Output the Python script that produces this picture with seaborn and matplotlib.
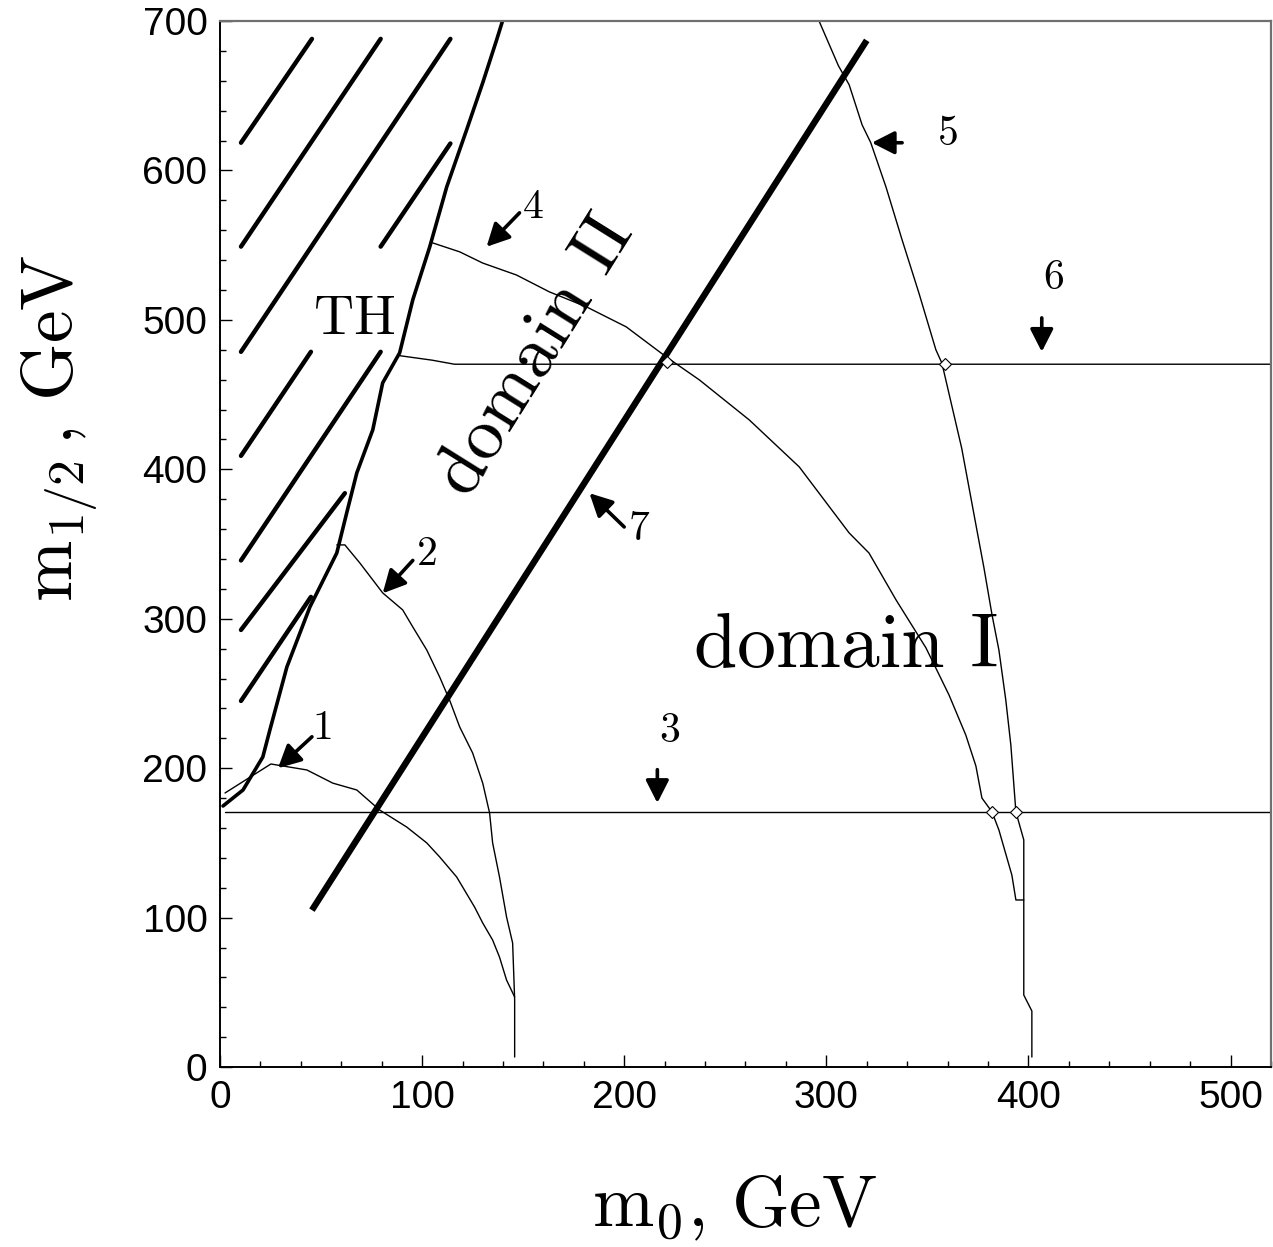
import numpy as np
import pandas as pd
import matplotlib
matplotlib.use("Agg")
import matplotlib.pyplot as plt
import seaborn as sns

# --- data (m0, m1/2 in GeV) ---
# theoretically excluded boundary (thick jagged line)
th_x = [1.5, 11.4, 21.2, 24.7, 33.1, 44.5, 57.8, 62.7, 67.7, 75.6, 80.5, 88.9, 95.4, 103.8, 112.2, 122, 130, 136.9, 139.8]
th_y = [174.7, 185.4, 207.5, 225.6, 267.7, 307.9, 344, 370.8, 397.6, 426.4, 457.8, 477.9, 513.4, 548.9, 589, 627, 658.6, 687.4, 700]

# hatch strokes of the TH region (start/end)
hatch_x0 = [10.4, 10.4, 10.4, 79.5, 10.4, 10.4, 10.4, 10.4]
hatch_y0 = [618.5, 549, 478.6, 549, 409, 339, 292.5, 245]
hatch_x1 = [45.5, 79.5, 114, 114, 45, 79.5, 61.8, 45]
hatch_y1 = [688, 688, 688, 618, 478.6, 478.6, 384, 314.6]

# curve 1
c1_x = [2.5, 25.2, 43, 55.8, 67.7, 79, 92.4, 102.3, 108.7, 117.1, 126, 130, 134.9, 138.3, 141.8, 145.8]
c1_y = [183.4, 202.8, 198.8, 190, 185.4, 172, 160.6, 150, 140.6, 127.2, 107, 96.4, 85, 73.6, 58.2, 46.9]

# curve 2
c2_x = [57.8, 61.8, 69.2, 80.5, 90.4, 95.4, 102.3, 108.7, 113.6, 118.6, 125, 130, 133.4, 134.9, 138.3, 141.8, 144.8, 145.8, 145.8]
c2_y = [349.4, 349.4, 337.3, 317.3, 305.9, 294.5, 279.1, 261, 245.6, 227.6, 210.2, 190, 170, 150, 127.2, 100.4, 83, 45, 6.7]

# curve 4
c4_x = [105.2, 118.6, 130, 146.7, 163, 181.3, 201, 220.8, 237.2, 261.9, 286.6, 311.3, 321.1, 334.5, 349.3, 360.7, 369, 374, 377, 382, 385.4, 391.8, 393.8, 397.7]
c4_y = [551.5, 545.5, 538, 530, 518.7, 508.7, 495.3, 475.2, 459.8, 433, 401.6, 357.4, 344, 312.6, 280.5, 249, 222.2, 201.5, 180, 170.7, 158.6, 128.5, 111.8, 111.8]

# curve 5
c5_x = [296.4, 306, 311.3, 317.7, 322, 329.5, 337.5, 345.8, 354.2, 357.2, 367, 374, 378, 382, 385.4, 388.8, 391.3, 393.8, 397.7, 397.7, 401.7, 401.7]
c5_y = [700, 670, 657.3, 630.5, 618.5, 589, 553.5, 518, 480, 471, 414, 363, 334, 302.5, 279, 245.6, 215.5, 170.7, 152, 48.2, 37.5, 6.7]

# horizontal lines 3 and 6
l3_x = [2.5, 520]
l3_y = [170.5, 170.5]
l6_x = [89, 105, 116, 520]
l6_y = [476, 473, 470.3, 470.3]

# thick line 7
l7_x = [45.5, 320]
l7_y = [105, 687]

# crossing diamonds
dia_x = [358.5, 382, 394, 221]
dia_y = [470.3, 170.5, 170.5, 472]

# arrows: tail -> tip, label position
arr_lab = ["1", "2", "3", "4", "5", "6", "7"]
arr_tail_x = [45.5, 95.4, 216.4, 148.2, 337.5, 406.6, 200]
arr_tail_y = [221, 339, 199, 571.6, 618.5, 501.3, 361.4]
arr_tip_x = [28.7, 80.5, 216.4, 131.9, 322.5, 406.6, 182.8]
arr_tip_y = [200, 317, 176.7, 548.9, 618.5, 478.6, 384]
lab_x = [51, 102.5, 222.5, 155, 360.5, 412.5, 207.5]
lab_y = [227, 343, 225, 575, 624, 528, 360]

sns.set_theme(style="white")
plt.rcParams["font.family"] = ["DejaVu Sans"]
plt.rcParams["mathtext.fontset"] = "cm"
plt.rcParams["text.color"] = "black"
plt.rcParams["axes.labelcolor"] = "black"
plt.rcParams["xtick.color"] = "black"
plt.rcParams["ytick.color"] = "black"

fig = plt.figure(figsize=(12.73, 12.47), dpi=100)
ax = fig.add_axes([0.1728, 0.1443, 0.8256, 0.8389])

# hatch strokes
hatch = pd.DataFrame({
    "x": np.ravel(np.column_stack([hatch_x0, hatch_x1])),
    "y": np.ravel(np.column_stack([hatch_y0, hatch_y1])),
    "seg": np.repeat(np.arange(len(hatch_x0)), 2),
})
sns.lineplot(data=hatch, x="x", y="y", units="seg", estimator=None, sort=False,
             color="black", lw=3.2, ax=ax, legend=False)

sns.lineplot(x=th_x, y=th_y, sort=False, estimator=None, color="black", lw=2.6, ax=ax)
for cx, cy in [(c1_x, c1_y), (c2_x, c2_y), (c4_x, c4_y), (c5_x, c5_y),
               (l3_x, l3_y), (l6_x, l6_y)]:
    sns.lineplot(x=cx, y=cy, sort=False, estimator=None, color="black", lw=1.0, ax=ax)
sns.lineplot(x=l7_x, y=l7_y, sort=False, estimator=None, color="black", lw=4.6,
             ax=ax, solid_capstyle="butt")
ax.plot(dia_x, dia_y, ls="none", marker="D", ms=6.5, mfc="white", mec="black", mew=0.8)

for t, tx, ty, hx, hy, lx, ly in zip(arr_lab, arr_tail_x, arr_tail_y, arr_tip_x,
                                     arr_tip_y, lab_x, lab_y):
    ax.annotate("", xy=(hx, hy), xytext=(tx, ty),
                arrowprops=dict(arrowstyle="-|>,head_length=0.55,head_width=0.28",
                                mutation_scale=25, lw=2.6, color="black",
                                shrinkA=0, shrinkB=0))
    ax.text(lx, ly, t, fontsize=30, family="cmr10", ha="center", va="center")

ax.text(66.7, 500, "TH", fontsize=40, family="cmr10", ha="center", va="center")
ax.text(156.5, 476, "domain II", fontsize=53, family="cmr10", ha="center",
        va="center", rotation=58, rotation_mode="anchor")
ax.text(310, 281, "domain I", fontsize=56, family="cmr10", ha="center", va="center")

ax.set_xlim(0, 520)
ax.set_ylim(0, 700)
ax.set_xticks(np.arange(0, 501, 100))
ax.set_yticks(np.arange(0, 701, 100))
ax.set_xticks(np.arange(0, 521, 20), minor=True)
ax.set_yticks(np.arange(0, 701, 20), minor=True)
ax.tick_params(which="both", direction="in", bottom=True, left=True, top=False,
               right=False, color="black", width=1.0)
ax.tick_params(which="major", length=8.5, pad=9, labelsize=28, labelcolor="black")
ax.tick_params(which="minor", length=4.5)
for lab in ax.get_xticklabels() + ax.get_yticklabels():
    lab.set_family("Liberation Sans")

for side in ["left", "bottom"]:
    ax.spines[side].set_color("black")
    ax.spines[side].set_linewidth(1.4)
for side in ["top", "right"]:
    ax.spines[side].set_color("#707070")
    ax.spines[side].set_linewidth(1.6)

ax.set_xlabel(r"$\mathrm{m}_{0}\mathrm{,\,GeV}$", fontsize=53, va="center", color="black")
ax.set_ylabel(r"$\mathrm{m}_{1/2}\mathrm{\,,\,GeV}$", fontsize=53, va="center", color="black")
ax.xaxis.set_label_coords(0.49, -0.132)
ax.yaxis.set_label_coords(-0.152, 0.611)

fig.savefig("out.png", dpi=100)
